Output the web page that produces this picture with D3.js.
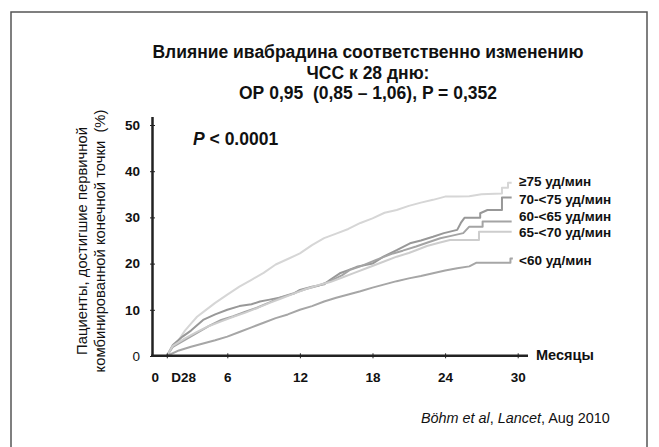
<!DOCTYPE html>
<html>
<head>
<meta charset="utf-8">
<script src="https://cdn.jsdelivr.net/npm/d3@7"></script>
<style>
  body { margin: 0; background: #fff; }
  svg text { font-family: "Liberation Sans", Arial, sans-serif; fill: #111; white-space: pre; }
</style>
</head>
<body>
<svg width="659" height="447"></svg>
<script>
// Titles
var titleLines = ['Влияние ивабрадина соответственно изменению',
  'ЧСС к 28 дню:', 'ОР 0,95  (0,85 – 1,06), P = 0,352'];
var yLabelLines = ['Пациенты, достигшие первичной', 'комбинированной конечной точки  (%)'];

// Axes
var yTicks = [0, 10, 20, 30, 40, 50];
var xTicks = [0, 1, 6, 12, 18, 24, 30];
var xTickLabels = ['0', 'D28', '6', '12', '18', '24', '30'];

// Series (month, % with event)
var seriesNames = ['≥75 уд/мин', '70-<75 уд/мин', '60-<65 уд/мин', '65-<70 уд/мин', '<60 уд/мин'];
var seriesColors = ['#d6d6d6', '#989898', '#a4a4a4', '#cdcdcd', '#a6a6a6'];
var labelAt = [37.9, 34, 30.3, 26.9, 20.8];

var hr75 = [[1,0],[1.5,2],[2,3.5],[2.5,5.5],[3,7],[3.5,8.5],[4,9.5],[5,11.5],[6,13.3],[7,15],[8,16.5],
  [9,18],[10,19.8],[11,21],[12,22.2],[13,24],[14,25.5],[15,26.5],[16,27.5],[17,28.8],[18,29.8],
  [19,31],[20,31.6],[21,32.5],[22,33.2],[23,33.8],[24,34.5],[25,34.5],[26,34.6],[27,35],[28.7,35.2],
  [28.7,36.4],[29.2,36.4],[29.2,37.5],[29.5,37.5]];
var hr70 = [[1,0],[1.5,2.4],[2.3,4.2],[3,5.5],[4,7.8],[5,9],[6,10],[7,10.8],[8,11.2],[8.7,11.8],
  [9.5,12.2],[10.6,12.8],[11.5,13.5],[12,14.3],[13,15],[14,15.5],[14.5,16.5],[15.3,17.9],[16,18.6],
  [16.7,19.3],[18,20],[18.9,21.5],[20,22.9],[21.1,24.4],[22,25],[23,25.8],[23.9,26.6],[25,27.3],
  [25.3,28.8],[25.6,29.9],[26.9,29.9],[26.9,30.9],[27.5,31.6],[28.7,31.6],[28.7,34.3],[29.5,34.3]];
var hr60 = [[1,0],[1.5,2],[2.5,3.5],[3.5,5],[4.5,6.5],[5.5,7.8],[6.5,8.6],[7.5,9.6],[8.5,10.5],
  [9.5,11.6],[10.5,12.8],[11.5,13.6],[12.5,14.5],[13.5,15.2],[14.5,16.2],[15.5,17.5],[16.1,18.6],
  [17,19.4],[18.3,20.8],[19.7,22.2],[20.5,22.8],[21.6,23.7],[22.5,24.5],[23.6,25.5],[24.5,26],
  [25.5,26.6],[26,28],[27.1,28],[27.1,29.1],[29.5,29.1]];
var hr65 = [[1,0],[1.5,2.2],[2.5,3.8],[3.5,5.2],[4.5,6.5],[5.5,7.5],[6.5,8.5],[7.5,9.4],[8.5,10.4],
  [9.5,11.5],[10.5,12.5],[11.5,13.5],[12.5,14.5],[13.5,15.3],[14.5,16],[15.5,17],[16.5,18],
  [17.5,19],[18.9,20.4],[20,21.5],[21,22.3],[21.6,22.9],[22.5,23.8],[23.5,24.5],[24.4,25.1],
  [26.8,25.1],[26.8,26.9],[29.5,26.9]];
var hrLow = [[1,0],[2,1.2],[3,2],[4,2.7],[5,3.4],[6,4.2],[7,5.2],[8,6.2],[9,7.2],[10,8.2],[11,9],
  [12,10],[13,10.8],[14,11.8],[15,12.6],[16,13.3],[17,14],[18,14.8],[19,15.5],[20,16.2],[21,16.8],
  [22,17.3],[23,17.9],[24,18.5],[25,19],[26,19.4],[26.6,20.2],[29.4,20.2],[29.4,21.1],[29.6,21.1]];
var allSeries = [hr75, hr70, hr60, hr65, hrLow];

var svg = d3.select('svg');

// outer frame
svg.append('rect')
  .attr('x', 11).attr('y', 12).attr('width', 636).attr('height', 460)
  .attr('fill', 'none').attr('stroke', '#555').attr('stroke-width', 1.5);

var x = d3.scaleLinear().domain([0, 30]).range([154.7, 517.7]);
var y = d3.scaleLinear().domain([0, 50]).range([356, 125]);

// title
svg.append('g').selectAll('text').data(titleLines).enter().append('text')
  .attr('x', 368).attr('y', function(d, i) { return 58 + i * 20.5; })
  .attr('text-anchor', 'middle')
  .style('font-size', '17.5px').style('font-weight', 'bold')
  .text(function(d) { return d; });

// y label
svg.append('g').attr('transform', 'translate(0,241)rotate(-90)')
  .selectAll('text').data(yLabelLines).enter().append('text')
  .attr('x', 0).attr('y', function(d, i) { return [87, 105][i]; })
  .attr('text-anchor', 'middle')
  .style('font-size', '14.8px').attr('fill', '#222')
  .text(function(d) { return d; });

// curves
var line = d3.line()
  .x(function(d) { return x(d[0]); })
  .y(function(d) { return y(d[1]); });
svg.append('g').selectAll('path').data(allSeries).enter().append('path')
  .attr('d', line)
  .attr('fill', 'none')
  .attr('stroke', function(d, i) { return seriesColors[i]; })
  .attr('stroke-width', 2)
  .attr('stroke-linejoin', 'round');

// series labels
svg.append('g').selectAll('text').data(seriesNames).enter().append('text')
  .attr('x', 519)
  .attr('y', function(d, i) { return y(labelAt[i]) + 5; })
  .style('font-size', '13.5px').style('font-weight', 'bold')
  .text(function(d) { return d; });

// axes lines
svg.append('line').attr('x1', 152.5).attr('x2', 152.5).attr('y1', 117).attr('y2', 357)
  .attr('stroke', '#222').attr('stroke-width', 2.5);
svg.append('line').attr('x1', 151).attr('x2', 528).attr('y1', 355.8).attr('y2', 355.8)
  .attr('stroke', '#222').attr('stroke-width', 2.5);

// y ticks + labels
var yAxis = svg.append('g').attr('transform', 'translate(152.5,0)')
  .call(d3.axisLeft(y).tickValues(yTicks).tickSize(2.5).tickPadding(10));
yAxis.select('.domain').remove();
yAxis.selectAll('.tick line').attr('stroke', '#222').attr('x2', 2.5).attr('x1', -2.5);
yAxis.selectAll('.tick text')
  .style('font-size', '13.5px')
  .style('font-weight', function(d) { return d === 0 ? 'normal' : 'bold'; })
  .style('font-family', '"Liberation Sans", Arial, sans-serif')
  .attr('fill', '#111');

// x ticks + labels
var xAxis = svg.append('g').attr('transform', 'translate(0,355.8)')
  .call(d3.axisBottom(x).tickValues(xTicks).tickSize(2.5).tickPadding(14)
    .tickFormat(function(d, i) { return xTickLabels[i]; }));
xAxis.select('.domain').remove();
xAxis.selectAll('.tick line').attr('stroke', '#222').attr('y1', -2.5).attr('y2', 2.5)
  .style('display', function(d) { return d === 0 ? 'none' : null; });
xAxis.selectAll('.tick text')
  .style('font-size', '13.5px').style('font-weight', 'bold')
  .style('font-family', '"Liberation Sans", Arial, sans-serif')
  .attr('fill', '#111')
  .attr('text-anchor', function(d) { return d === 1 ? 'start' : 'middle'; })
  .attr('dx', function(d) { return d === 1 ? 4 : 0; });

svg.append('text').attr('x', 536).attr('y', 360)
  .style('font-size', '14.5px').style('font-weight', 'bold')
  .text('Месяцы');

// p-value
var pText = svg.append('text').attr('x', 193).attr('y', 145)
  .style('font-size', '17.5px').style('font-weight', 'bold');
pText.append('tspan').style('font-style', 'italic').text('P');
pText.append('tspan').text(' < 0.0001');

// source
var src = svg.append('text').attr('x', 421).attr('y', 423)
  .style('font-size', '14.4px').attr('fill', '#222');
src.append('tspan').style('font-style', 'italic').text('Böhm et al');
src.append('tspan').text(', ');
src.append('tspan').style('font-style', 'italic').text('Lancet');
src.append('tspan').text(', Aug 2010');
</script>
</body>
</html>
